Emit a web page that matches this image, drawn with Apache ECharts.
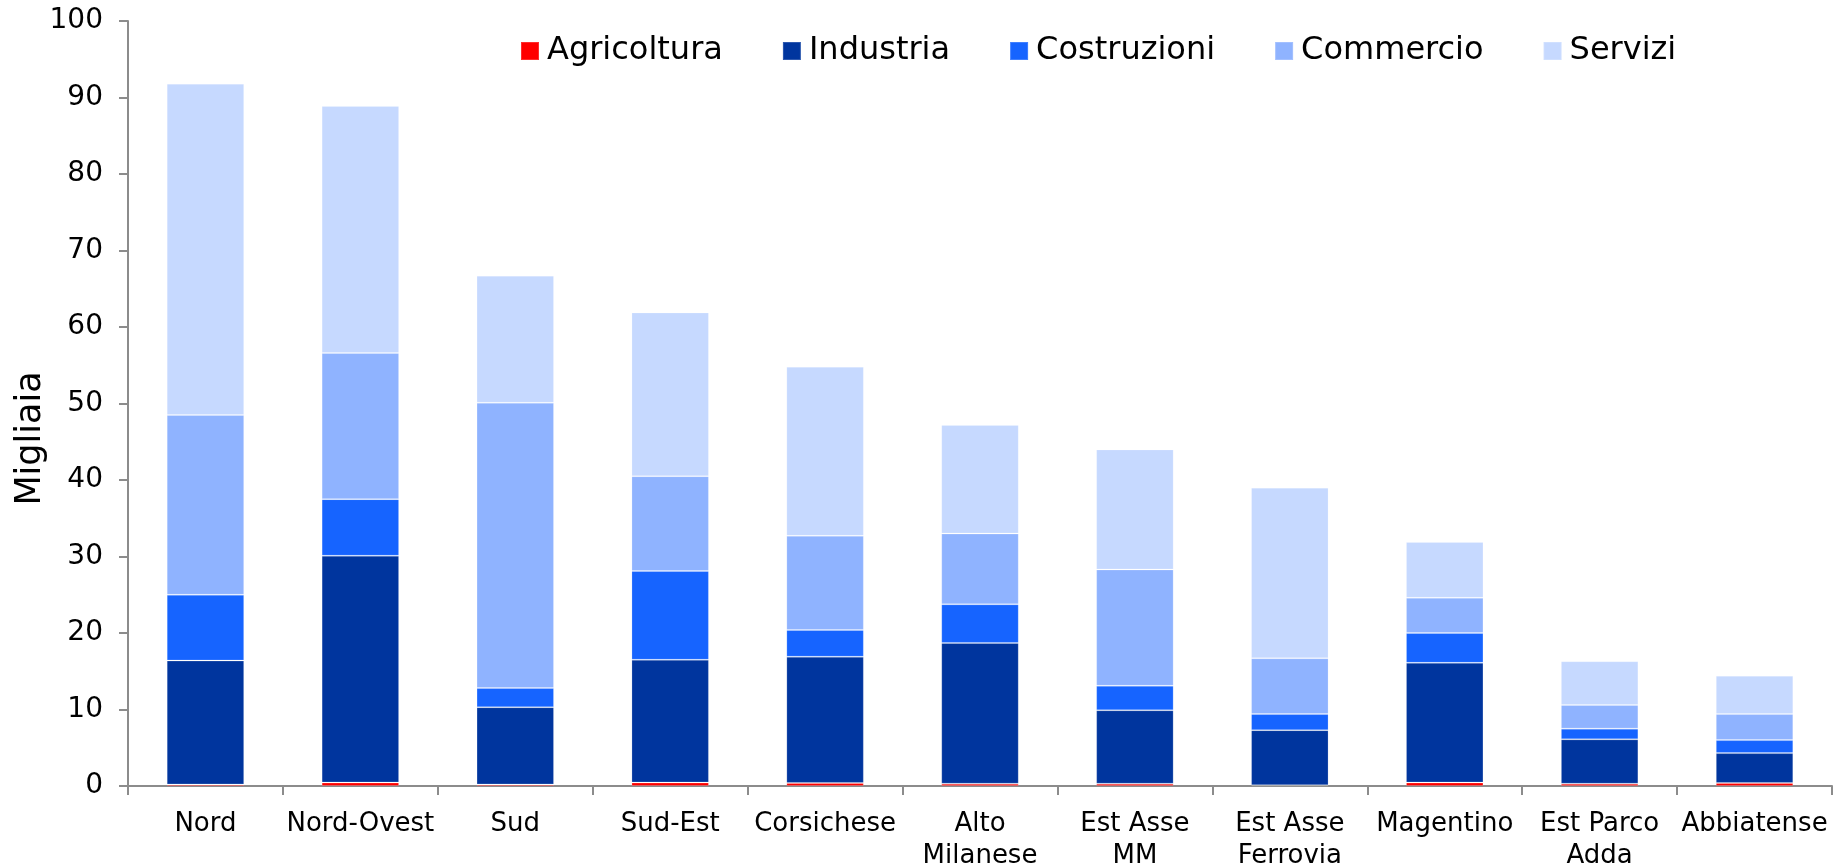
<!DOCTYPE html>
<html>
<head>
<meta charset="utf-8">
<script src="https://cdn.jsdelivr.net/npm/echarts@6/dist/echarts.min.js"></script>
<style>
html,body{margin:0;padding:0;background:#fff;}
#chart{width:1846px;height:867px;}
</style>
</head>
<body>
<div id="chart"></div>
<script>
const categories = ["Nord", "Nord-Ovest", "Sud", "Sud-Est", "Corsichese", "Alto\nMilanese", "Est Asse\nMM", "Est Asse\nFerrovia", "Magentino", "Est Parco\nAdda", "Abbiatense"];
const seriesNames = ["Agricoltura", "Industria", "Costruzioni", "Commercio", "Servizi"];
const agricoltura = [0.2, 0.45, 0.2, 0.45, 0.4, 0.3, 0.3, 0.1, 0.45, 0.3, 0.4];
const industria   = [16.2, 29.65, 10.1, 16.05, 16.5, 18.4, 9.6, 7.2, 15.65, 5.8, 3.9];
const costruzioni = [8.6, 7.4, 2.5, 11.6, 3.5, 5.05, 3.2, 2.1, 3.9, 1.4, 1.7];
const commercio   = [23.5, 19.1, 37.3, 12.4, 12.3, 9.25, 15.2, 7.3, 4.6, 3.1, 3.4];
const servizi     = [43.3, 32.3, 16.6, 21.4, 22.1, 14.2, 15.7, 22.3, 7.3, 5.7, 5.0];
const yTicks = [0, 10, 20, 30, 40, 50, 60, 70, 80, 90, 100];

const colors = ["#FF0000", "#00359E", "#1664FF", "#8FB3FF", "#C6D9FF"];
const values = [agricoltura, industria, costruzioni, commercio, servizi];
const font = "DejaVu Sans, Verdana, sans-serif";

const chart = echarts.init(document.getElementById('chart'), null, {renderer: 'canvas'});
chart.setOption({
  animation: false,
  backgroundColor: '#ffffff',
  textStyle: {fontFamily: font},
  grid: {left: 128, right: 14, top: 21, bottom: 81, containLabel: false, outerBoundsMode: 'none'},
  legend: {
    data: seriesNames,
    left: 520,
    top: 35,
    padding: 0,
    icon: 'rect',
    itemWidth: 18,
    itemHeight: 18,
    itemGap: 59,
    textStyle: {fontSize: 32, color: '#000', fontFamily: font, padding: [0, 0, 0, 3]}
  },
  xAxis: {
    type: 'category',
    data: categories,
    axisLine: {show: true, lineStyle: {color: '#8c8c8c', width: 2}},
    axisTick: {show: true, length: 9, lineStyle: {color: '#8c8c8c', width: 2}},
    axisLabel: {fontSize: 26, color: '#000', margin: 22, lineHeight: 32, interval: 0, fontFamily: font},
    splitLine: {show: false}
  },
  yAxis: {
    type: 'value',
    min: yTicks[0],
    max: yTicks[yTicks.length - 1],
    interval: 10,
    name: 'Migliaia',
    nameLocation: 'middle',
    nameGap: 80,
    nameMoveOverlap: false,
    nameRotate: 90,
    nameTextStyle: {fontSize: 35, color: '#000', fontFamily: font, padding: [0, 70, 0, 0]},
    axisLine: {show: true, lineStyle: {color: '#8c8c8c', width: 2}},
    axisTick: {show: true, length: 9, inside: false, lineStyle: {color: '#8c8c8c', width: 2}},
    axisLabel: {fontSize: 28, color: '#000', margin: 25, fontFamily: font},
    splitLine: {show: false}
  },
  series: seriesNames.map((n, i) => ({
    name: n,
    type: 'bar',
    stack: 'total',
    barWidth: '50%',
    data: values[i],
    itemStyle: {color: colors[i], borderColor: 'rgba(255,255,255,0.18)', borderWidth: 1}
  }))
});
</script>
</body>
</html>
